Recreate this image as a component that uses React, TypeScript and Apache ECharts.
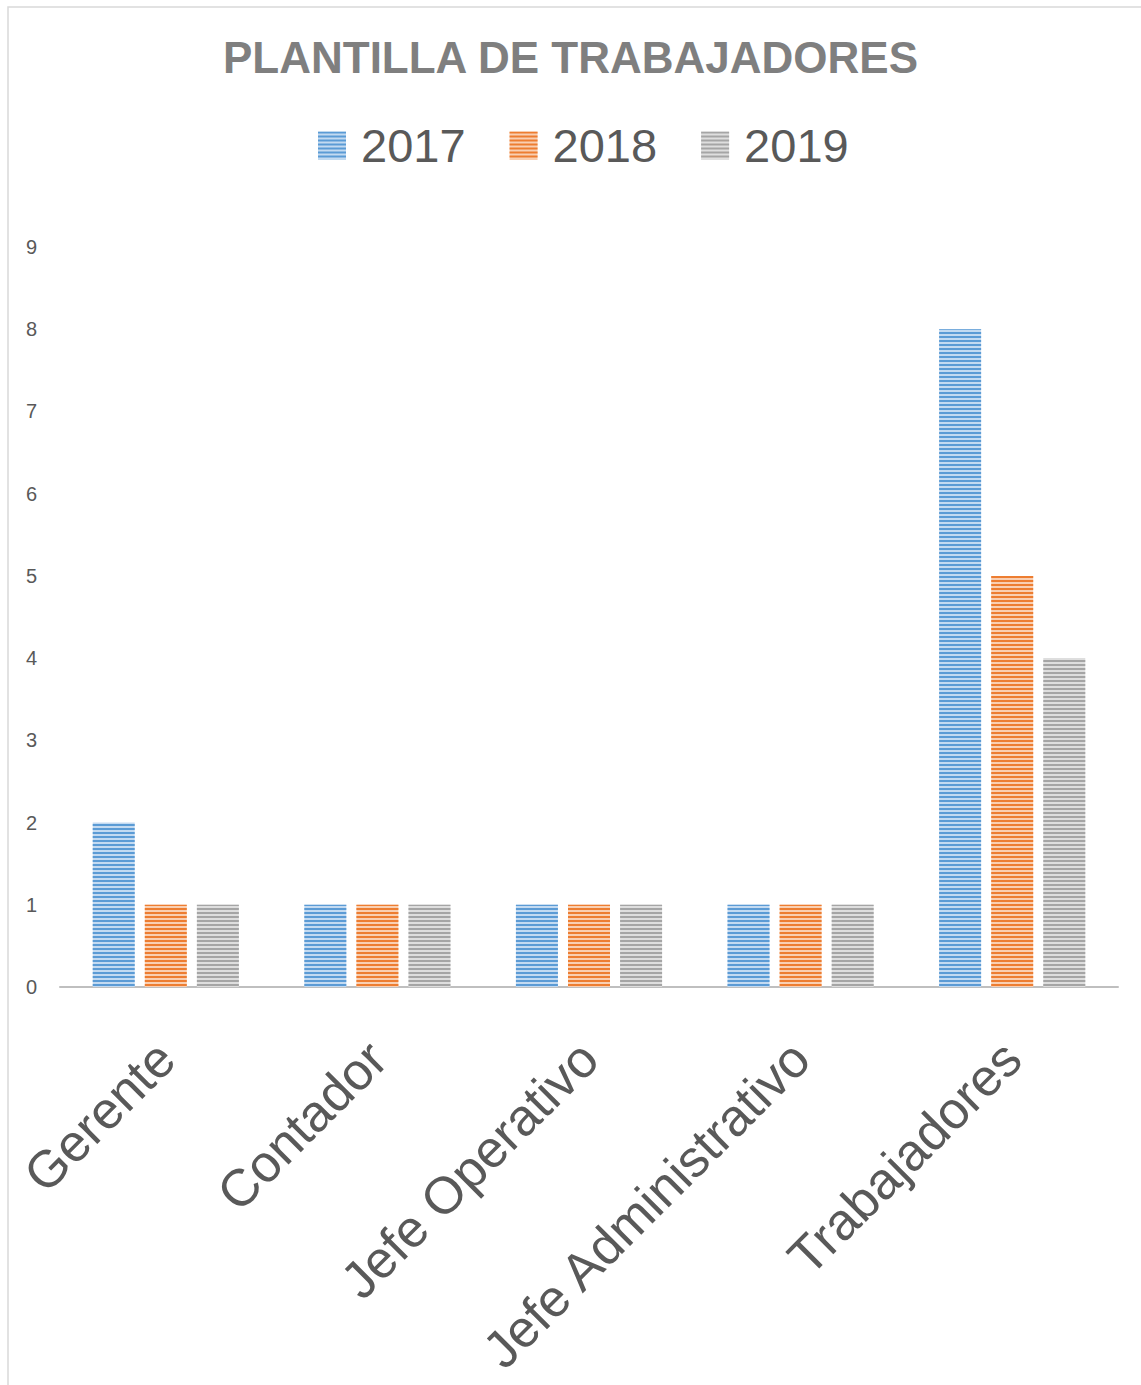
import React, { useEffect, useRef } from "react";
import * as echarts from "echarts";

const titleText = "PLANTILLA DE TRABAJADORES";
const categories = ["Gerente", "Contador", "Jefe Operativo", "Jefe Administrativo", "Trabajadores"];
const years = ["2017", "2018", "2019"];
const values2017 = [2, 1, 1, 1, 8];
const values2018 = [1, 1, 1, 1, 5];
const values2019 = [1, 1, 1, 1, 4];
const yTicks = [0, 1, 2, 3, 4, 5, 6, 7, 8, 9];

const darkColors = ["#5b9bd5", "#ed7d31", "#a5a5a5"];
const lightColors = ["#c3daf1", "#f9cfb2", "#dedede"];

export default function App() {
  const ref = useRef<HTMLDivElement>(null);
  useEffect(() => {
    if (!ref.current) return;
    const chart = echarts.init(ref.current, undefined, { renderer: "svg" });
    const seriesData = [values2017, values2018, values2019];
    chart.setOption({
      animation: false,
      backgroundColor: "#ffffff",
      textStyle: { fontFamily: "Liberation Sans" },
      title: {
        text: titleText,
        left: "center",
        top: 30,
        textStyle: { fontSize: 44, fontWeight: "bold", color: "#7f7f7f", fontFamily: "Liberation Sans" },
      },
      legend: {
        data: years,
        left: 313,
        top: 117,
        itemWidth: 28,
        itemHeight: 28,
        itemGap: 44,
        icon: "rect",
        textStyle: { fontSize: 47, color: "#595959", padding: [0, 0, 0, 10] },
      },
      graphic: [
        {
          type: "polyline",
          shape: { points: [[8, 1385], [8, 7], [1141, 7]] },
          style: { stroke: "#d9d9d9", lineWidth: 1.5, fill: "none" },
          silent: true,
        },
      ],
      grid: { left: 60, right: 23, top: 247, bottom: 398 },
      xAxis: {
        type: "category",
        data: categories,
        axisLine: { lineStyle: { color: "#bfbfbf", width: 2 } },
        axisTick: { show: false },
        axisLabel: { rotate: 45, fontSize: 52, color: "#595959", margin: 63, interval: 0 },
      },
      yAxis: {
        type: "value",
        min: yTicks[0],
        max: yTicks[yTicks.length - 1],
        interval: 1,
        splitLine: { show: false },
        axisLine: { show: false },
        axisTick: { show: false },
        axisLabel: { fontSize: 20, color: "#595959", margin: 23 },
      },
      series: years.map((y, i) => ({
        name: y,
        type: "bar",
        data: seriesData[i],
        barWidth: 42,
        barGap: "24%",
        itemStyle: {
          color: lightColors[i],
          decal: {
            symbol: "rect",
            symbolSize: 1,
            dashArrayX: [1, 0],
            dashArrayY: [2, 2],
            rotation: 0,
            color: darkColors[i],
          },
        },
      })),
    });
    return () => chart.dispose();
  }, []);
  return (
    <div
      ref={ref}
      style={{ position: "absolute", left: 0, top: 0, width: 1141, height: 1385 }}
    />
  );
}
